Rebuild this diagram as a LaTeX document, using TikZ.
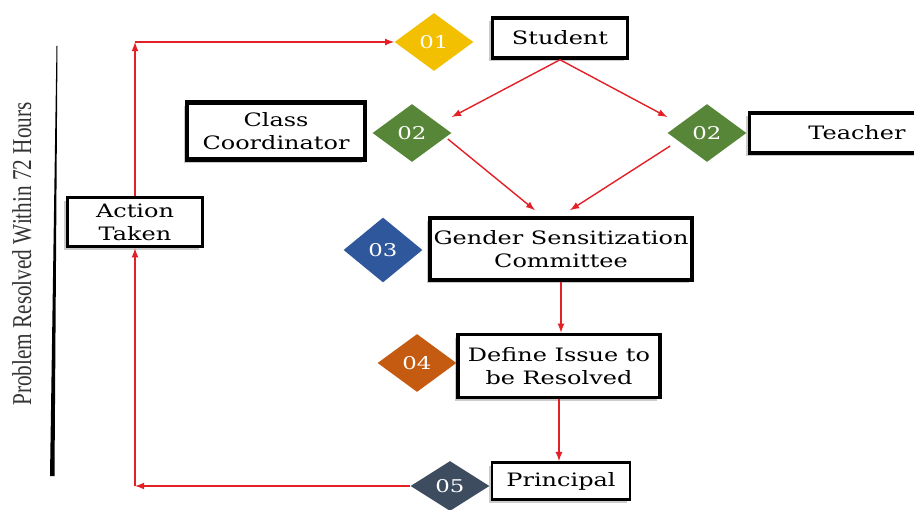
\documentclass[tikz,border=0pt]{standalone}
\usepackage{fontspec}
\setmainfont{DejaVu Serif}[FakeStretch=1.3]
\newfontfamily\sidefont{Liberation Serif}[FakeStretch=0.78]
\usepackage{tikz}
\usetikzlibrary{arrows,calc,shapes.geometric,shadows}
\definecolor{flowred}{RGB}{226,32,38}
\definecolor{tagyellow}{RGB}{242,192,0}
\definecolor{taggreen}{RGB}{88,134,56}
\definecolor{tagblue}{RGB}{47,87,155}
\definecolor{tagorange}{RGB}{197,90,17}
\definecolor{tagslate}{RGB}{62,76,96}

\begin{document}
\begin{tikzpicture}[x=0.02cm,y=-0.02cm,
  box/.style={draw=black,fill=white,line width=2pt,align=center,inner sep=0pt,
    font=\fontsize{10.5}{13}\selectfont,
    drop shadow={shadow xshift=-1.8pt,shadow yshift=-1.8pt,fill=black!45,opacity=.45}},
  tag/.style={diamond,inner sep=0pt,text=white,minimum width=1.58cm,minimum height=1.16cm,
    font=\fontsize{10}{10}\selectfont},
  flow/.style={draw=flowred,line width=0.8pt,-latex}]
\useasboundingbox (0,0) rectangle (914,510);
\node[tag,fill=tagyellow] (d1) at (434,42) {01};
\node[box,minimum width=2.7cm,minimum height=0.8cm] (student) at (560,38) {Student};
\node[box,line width=2.8pt,minimum width=3.56cm,minimum height=1.14cm] (coord) at (276,131) {Class\\Coordinator};
\node[tag,fill=taggreen] (d2a) at (412,133) {02};
\node[tag,fill=taggreen] (d2b) at (707,133) {02};
\node[box,line width=1.8pt,minimum width=4.3cm,minimum height=0.8cm] (teacher) at (857,133) {Teacher};
\node[tag,fill=tagblue,minimum height=1.3cm] (d3) at (383,250) {03};
\node[box,minimum width=5.24cm,minimum height=1.24cm] (gsc) at (561,249) {Gender Sensitization\\Committee};
\node[tag,fill=tagorange] (d4) at (417,363) {04};
\node[box,minimum width=4.04cm,minimum height=1.26cm] (issue) at (559,366) {Define Issue to\\be Resolved};
\node[tag,fill=tagslate,minimum height=1cm] (d5) at (450,486) {05};
\node[box,line width=1.6pt,minimum width=2.76cm,minimum height=0.74cm] (principal) at (561,481) {Principal};
\node[box,minimum width=2.7cm,minimum height=0.98cm] (action) at (135,222) {Action\\Taken};
\node[rotate=90,text=black!80,font=\sidefont\fontsize{15.5}{16}\selectfont] (limit) at (22,254) {Problem Resolved Within 72 Hours};
\fill[black] (56.5,46) -- (57.5,46) -- (54.5,476) -- (50,476) -- cycle;
\coordinate (low) at (action.south |- d5.west);
\coordinate (high) at (action.north |- d1.west);
\draw[flow] (d5.west) -- (low);
\draw[flow] (low) -- (action.south);
\draw[flow] (action.north) -- (high);
\draw[flow] (high) -- (d1.west);
\draw[flow] (student.south) -- ($(d2a.east)+(0,-16)$);
\draw[flow] (student.south) -- ($(d2b.west)+(0,-16)$);
\draw[flow] ($(d2a.east)+(-4,6)$) -- ($(gsc.north)+(-26,-6)$);
\draw[flow] ($(d2b.west)+(3,13)$) -- ($(gsc.north)+(9,-6)$);
\draw[flow] (gsc.south) -- (gsc.south |- issue.north);
\draw[flow] (issue.south) -- (issue.south |- principal.north);
\end{tikzpicture}
\end{document}
